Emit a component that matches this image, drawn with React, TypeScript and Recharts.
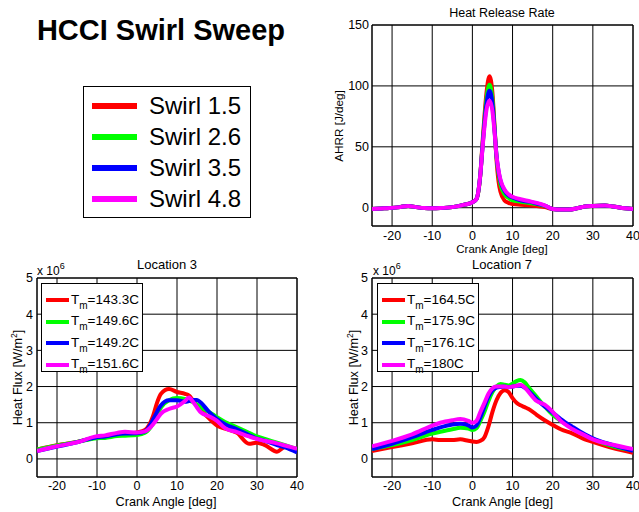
import React from 'react';
import { LineChart, Line, XAxis, YAxis, CartesianGrid, ReferenceArea, Legend } from 'recharts';

const FONT = '"Liberation Sans", Arial, Helvetica, sans-serif';

// ---------- shared labels / colours ----------
const swirlLabels = ['Swirl 1.5', 'Swirl 2.6', 'Swirl 3.5', 'Swirl 4.8'];
const seriesColors = ['#ff0000', '#00ff00', '#0000ff', '#ff00ff'];
const crankTicks = [-20, -10, 0, 10, 20, 30, 40];
const hrrTicks = [0, 50, 100, 150];
const fluxTicks = [0, 1, 2, 3, 4, 5];

// ---------- Heat release rate (J/deg) ----------
const hrrAngle = [-25, -22, -18, -16, -14, -12, -10, -8, -5, -2, 0, 1, 2, 2.5, 3, 3.5, 4.25, 5, 5.5, 6, 6.5, 7, 8, 9, 10, 12, 14, 16, 18, 20, 22, 24, 26, 28, 30, 33, 35, 38, 40];
const hrrSwirl15 = [-1, -0.5, 0.5, 1.5, 0.5, -0.3, -0.5, -0.3, 0.5, 2.5, 4.5, 7, 28, 52, 75, 94, 108, 94, 68, 40, 22, 13, 6, 4, 3, 2.5, 2, 1.5, 0.5, -1, -1.5, -1.5, -0.5, 1, 1.5, 1.8, 1, -0.5, -1];
const hrrSwirl26 = [-1, -0.5, 0.5, 1.5, 0.5, -0.3, -0.5, -0.3, 0.5, 2.5, 4.5, 7, 28, 50, 71, 89, 101, 89, 66, 42, 28, 19, 11, 8, 6, 5, 4, 3, 1.5, -1, -1.5, -1.5, -0.5, 1, 1.5, 1.8, 1, -0.5, -1];
const hrrSwirl35 = [-1, -0.5, 0.5, 1.5, 0.5, -0.3, -0.5, -0.3, 0.5, 2.5, 4.5, 7, 28, 49, 69, 85, 96, 85, 65, 43, 30, 22, 14, 10, 8.5, 6, 5, 3.5, 1.8, -1, -1.5, -1.5, -0.5, 1, 1.5, 1.8, 1, -0.5, -1];
const hrrSwirl48 = [-1, -0.5, 0.5, 1.5, 0.5, -0.3, -0.5, -0.3, 0.5, 2.5, 4.5, 7, 28, 48, 66, 80, 88, 79, 63, 43, 31, 23, 15, 11, 9, 7, 5.5, 4, 2, -1, -1.5, -1.5, -0.5, 1, 1.5, 1.8, 1, -0.5, -1];

// ---------- Location 3 heat flux (x 10^6 W/m^2) ----------
const loc3Angle = [-25, -20, -15, -10, -8, -5, -3, 0, 2, 4, 5, 6, 8, 10, 12, 13, 14, 15, 16, 18, 20, 22, 25, 28, 30, 32, 35, 37, 40];
const loc3Swirl15 = [0.26, 0.38, 0.47, 0.6, 0.62, 0.66, 0.68, 0.73, 0.8, 1.18, 1.55, 1.8, 1.93, 1.85, 1.8, 1.75, 1.62, 1.48, 1.35, 1.12, 0.92, 0.84, 0.72, 0.42, 0.45, 0.38, 0.2, 0.33, 0.27];
const loc3Swirl26 = [0.26, 0.37, 0.47, 0.57, 0.58, 0.63, 0.64, 0.66, 0.72, 0.98, 1.2, 1.42, 1.62, 1.68, 1.66, 1.62, 1.57, 1.5, 1.42, 1.3, 1.15, 1.02, 0.87, 0.72, 0.62, 0.55, 0.45, 0.38, 0.27];
const loc3Swirl35 = [0.22, 0.34, 0.46, 0.6, 0.62, 0.68, 0.7, 0.71, 0.76, 1.08, 1.3, 1.48, 1.62, 1.62, 1.58, 1.6, 1.63, 1.63, 1.55, 1.3, 1.1, 0.96, 0.82, 0.66, 0.56, 0.5, 0.38, 0.32, 0.18];
const loc3Swirl48 = [0.22, 0.35, 0.46, 0.63, 0.65, 0.72, 0.75, 0.73, 0.76, 0.95, 1.1, 1.25, 1.38, 1.45, 1.6, 1.7, 1.58, 1.42, 1.28, 1.18, 1.05, 0.85, 0.74, 0.62, 0.55, 0.5, 0.43, 0.37, 0.28];
const loc3Tm = ['143.3C', '149.6C', '149.2C', '151.6C'];

// ---------- Location 7 heat flux (x 10^6 W/m^2) ----------
const loc7Angle = [-25, -20, -15, -10, -8, -5, -3, -1, 0, 1, 2, 3, 4, 5, 6, 7, 8, 9, 10, 11, 12, 13, 14, 16, 18, 20, 22, 25, 28, 30, 35, 40];
const loc7Swirl15 = [0.22, 0.33, 0.43, 0.54, 0.52, 0.52, 0.54, 0.5, 0.48, 0.47, 0.5, 0.6, 0.9, 1.3, 1.62, 1.82, 1.9, 1.85, 1.68, 1.55, 1.48, 1.43, 1.38, 1.22, 1.07, 0.94, 0.82, 0.7, 0.54, 0.47, 0.3, 0.17];
const loc7Swirl26 = [0.27, 0.38, 0.52, 0.7, 0.75, 0.82, 0.86, 0.84, 0.8, 0.85, 1.05, 1.3, 1.6, 1.85, 2.0, 2.07, 2.05, 2.03, 2.08, 2.15, 2.18, 2.12, 1.98, 1.72, 1.45, 1.22, 1.05, 0.85, 0.66, 0.55, 0.35, 0.24];
const loc7Swirl35 = [0.27, 0.42, 0.6, 0.8, 0.87, 0.95, 0.97, 0.93, 0.87, 0.92, 1.15, 1.45, 1.72, 1.9, 1.97, 1.99, 2.0, 1.98, 2.0, 2.02, 2.02, 1.97, 1.88, 1.65, 1.45, 1.28, 1.1, 0.88, 0.68, 0.57, 0.38, 0.22];
const loc7Swirl48 = [0.35, 0.5, 0.68, 0.92, 1.0, 1.07, 1.1, 1.05, 1.0, 1.05, 1.3, 1.55, 1.8, 1.95, 2.0, 2.0, 2.0, 1.98, 2.0, 2.02, 2.05, 1.98, 1.85, 1.6, 1.5, 1.3, 1.05, 0.82, 0.65, 0.54, 0.39, 0.27];
const loc7Tm = ['164.5C', '175.9C', '176.1C', '180C'];

const build = (xs: number[], ys: number[][]) =>
  xs.map((x, i) => ({ x, s0: ys[0][i], s1: ys[1][i], s2: ys[2][i], s3: ys[3][i] }));

const hrrData = build(hrrAngle, [hrrSwirl15, hrrSwirl26, hrrSwirl35, hrrSwirl48]);
const loc3Data = build(loc3Angle, [loc3Swirl15, loc3Swirl26, loc3Swirl35, loc3Swirl48]);
const loc7Data = build(loc7Angle, [loc7Swirl15, loc7Swirl26, loc7Swirl35, loc7Swirl48]);

const tickStyle = { fill: '#000', fontSize: 12.5, fontFamily: FONT };

const TmLegend = (labels: string[]) => () => (
  <div style={{ width: 102, height: 89, border: '1px solid #000', background: '#fff', boxSizing: 'border-box', position: 'relative', fontFamily: FONT }}>
    {labels.map((t, i) => (
      <div key={i} style={{ position: 'absolute', left: 4, top: 6 + i * 21.6, height: 20, display: 'flex', alignItems: 'center' }}>
        <div style={{ width: 23, height: 4, background: seriesColors[i], marginRight: 2 }} />
        <span style={{ fontSize: 13.5, color: '#000', whiteSpace: 'nowrap', lineHeight: '14px' }}>
          T<span style={{ fontSize: 10, position: 'relative', top: 5 }}>m</span>={t}
        </span>
      </div>
    ))}
  </div>
);

const lines = (names: string[]) =>
  [0, 1, 2, 3].map((i) => (
    <Line
      key={i}
      dataKey={'s' + i}
      name={names[i]}
      type="monotone"
      stroke={seriesColors[i]}
      strokeWidth={4}
      dot={false}
      activeDot={false}
      isAnimationActive={false}
      strokeLinejoin="round"
    />
  ));

function FluxPanel({ data, tm, left, yWidth, marginRight }: any) {
  return (
    <div style={{ position: 'absolute', left, top: 255 }}>
      <LineChart width={left === 0 ? 320 : 319} height={257} data={data} margin={{ top: 23, right: marginRight, bottom: 5, left: 5 }}>
        <CartesianGrid stroke="#000" strokeWidth={1} />
        <XAxis dataKey="x" type="number" domain={[-25, 40]} ticks={crankTicks} interval={0} allowDataOverflow tickLine={false} axisLine={false} tickSize={0} tickMargin={4} height={30} tick={tickStyle} />
        <YAxis type="number" domain={[-0.5, 5]} ticks={fluxTicks} interval={0} allowDataOverflow tickLine={false} axisLine={false} tickSize={0} tickMargin={4} width={yWidth} tick={tickStyle} />
        <ReferenceArea x1={-25} x2={40} y1={-0.5} y2={5} fill="none" stroke="#000" strokeWidth={1} ifOverflow="visible" />
        {lines(tm)}
        <Legend layout="vertical" align="center" verticalAlign="middle" content={TmLegend(tm)} wrapperStyle={{ left: left === 0 ? 41 : 57, top: 28, width: 102, height: 89 }} />
      </LineChart>
    </div>
  );
}

export default function App() {
  return (
    <div style={{ position: 'absolute', left: 0, top: 0, width: 639, height: 512, background: '#fff', overflow: 'hidden', fontFamily: FONT }}>
      {/* Heat Release Rate */}
      <div style={{ position: 'absolute', left: 320, top: 0 }}>
        <LineChart width={319} height={260} data={hrrData} margin={{ top: 25, right: 6, bottom: 4, left: 5 }}>
          <CartesianGrid stroke="#000" strokeWidth={1} />
          <XAxis dataKey="x" type="number" domain={[-25, 40]} ticks={crankTicks} interval={0} allowDataOverflow tickLine={false} axisLine={false} tickSize={0} tickMargin={5} height={30} tick={tickStyle} />
          <YAxis type="number" domain={[-15, 150]} ticks={hrrTicks} interval={0} allowDataOverflow tickLine={false} axisLine={false} tickSize={0} tickMargin={3} width={47} tick={tickStyle} />
          <ReferenceArea x1={-25} x2={40} y1={-15} y2={150} fill="none" stroke="#000" strokeWidth={1} ifOverflow="visible" />
          {lines(swirlLabels)}
        </LineChart>
      </div>

      <FluxPanel data={loc3Data} tm={loc3Tm} left={0} yWidth={32} marginRight={23} />
      <FluxPanel data={loc7Data} tm={loc7Tm} left={320} yWidth={47} marginRight={6} />

      {/* Figure legend */}
      <div style={{ position: 'absolute', left: 83, top: 86, width: 168, height: 132, border: '1px solid #000', boxSizing: 'border-box', background: '#fff' }}>
        {swirlLabels.map((s, i) => (
          <div key={i} style={{ position: 'absolute', left: 8, top: 4 + i * 30.9, height: 30, display: 'flex', alignItems: 'center' }}>
            <div style={{ width: 45, height: 6, background: seriesColors[i], marginRight: 12 }} />
            <span style={{ fontSize: 24, lineHeight: '24px', color: '#000', whiteSpace: 'nowrap' }}>{s}</span>
          </div>
        ))}
      </div>

      {/* Text overlay */}
      <svg width={639} height={512} style={{ position: 'absolute', left: 0, top: 0, pointerEvents: 'none' }} fontFamily={FONT} fill="#000">
        <text x={161} y={39.5} textAnchor="middle" fontSize={29} fontWeight="bold">HCCI Swirl Sweep</text>

        <text x={502} y={17} textAnchor="middle" fontSize={12.5}>Heat Release Rate</text>
        <text x={502} y={253} textAnchor="middle" fontSize={11.5}>Crank Angle [deg]</text>
        <text transform="translate(343,126) rotate(-90)" textAnchor="middle" fontSize={11.7}>AHRR [J/deg]</text>

        <text x={167} y={269} textAnchor="middle" fontSize={13}>Location 3</text>
        <text x={166} y={505.5} textAnchor="middle" fontSize={12.7}>Crank Angle [deg]</text>
        <text transform="translate(21.5,377.5) rotate(-90)" textAnchor="middle" fontSize={12.7}>Heat Flux [W/m<tspan fontSize={8.5} dy={-5}>2</tspan><tspan dy={5}>]</tspan></text>
        <text x={37} y={275} fontSize={12}>x 10<tspan fontSize={9} dy={-6}>6</tspan></text>

        <text x={502} y={269} textAnchor="middle" fontSize={13}>Location 7</text>
        <text x={502.5} y={505.5} textAnchor="middle" fontSize={12.7}>Crank Angle [deg]</text>
        <text transform="translate(357.5,377.5) rotate(-90)" textAnchor="middle" fontSize={12.7}>Heat Flux [W/m<tspan fontSize={8.5} dy={-5}>2</tspan><tspan dy={5}>]</tspan></text>
        <text x={373} y={275} fontSize={12}>x 10<tspan fontSize={9} dy={-6}>6</tspan></text>
      </svg>
    </div>
  );
}
